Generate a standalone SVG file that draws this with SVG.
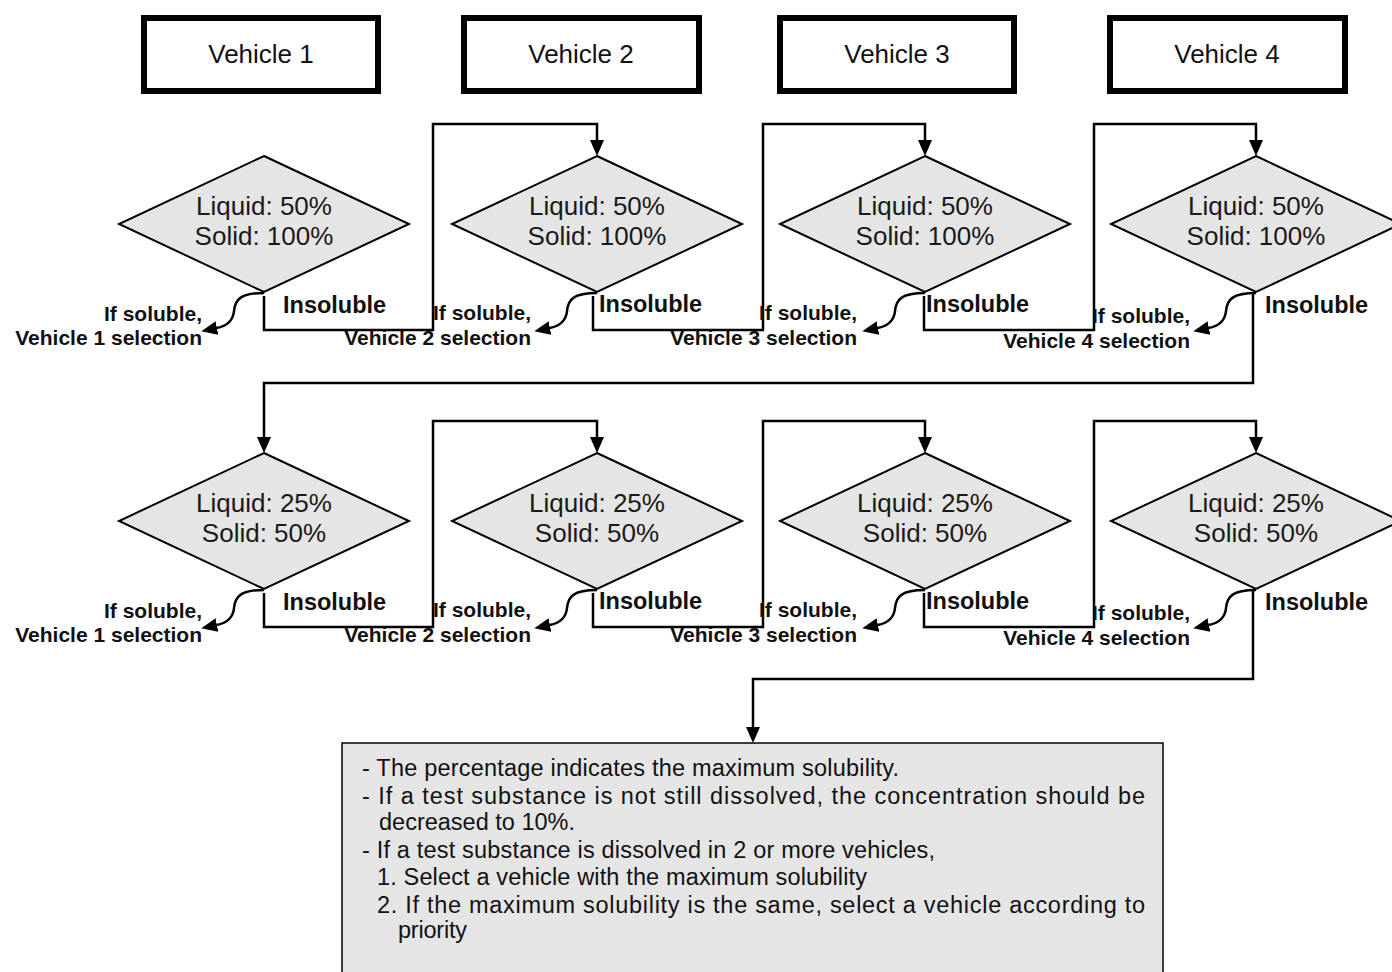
<svg xmlns="http://www.w3.org/2000/svg" width="1392" height="972" viewBox="0 0 1392 972">
  <style>
    .veh { fill: #ffffff; stroke: #000000; stroke-width: 6; }
    .vt { font-family: "Liberation Sans", Arial, sans-serif; font-size: 26px; fill: #111111; text-anchor: middle; }
    .dia { fill: #e5e5e5; stroke: #000000; stroke-width: 2; stroke-linejoin: miter; }
    .dt { font-family: "Liberation Sans", Arial, sans-serif; font-size: 26px; fill: #1a1a1a; text-anchor: middle; }
    .ins { font-family: "Liberation Sans", Arial, sans-serif; font-size: 23.5px; font-weight: bold; fill: #111111; }
    .sol { font-family: "Liberation Sans", Arial, sans-serif; font-size: 21px; font-weight: bold; fill: #111111; text-anchor: end; }
    .wire { fill: none; stroke: #000000; stroke-width: 2.5; }
    .note { fill: #e5e5e5; stroke: #000000; stroke-width: 1.5; }
    .nt { font-family: "Liberation Sans", Arial, sans-serif; font-size: 23.5px; fill: #111111; }
  </style>
  <defs>
    <marker id="arrow" markerUnits="userSpaceOnUse" markerWidth="16" markerHeight="14" refX="0" refY="7" orient="auto" viewBox="0 0 16 14">
      <path d="M0,0 L16,7 L0,14 Z" fill="#000000"/>
    </marker>
    <polygon id="diamond" points="0,-68 145,0 0,68 -145,0"/>
  </defs>

  <!-- vehicle header boxes -->
  <g id="vehicle1"><rect class="veh" x="144" y="18" width="234" height="73"/><text class="vt" x="261" y="63">Vehicle 1</text></g>
  <g id="vehicle2"><rect class="veh" x="464" y="18" width="235" height="73"/><text class="vt" x="581" y="63">Vehicle 2</text></g>
  <g id="vehicle3"><rect class="veh" x="780" y="18" width="234" height="73"/><text class="vt" x="897" y="63">Vehicle 3</text></g>
  <g id="vehicle4"><rect class="veh" x="1110" y="18" width="235" height="73"/><text class="vt" x="1227" y="63">Vehicle 4</text></g>

  <!-- connectors -->
  <g id="connectors">
    <!-- row 1: insoluble -> next vehicle -->
    <path class="wire" d="M264,296 V330 H433 V124 H597 V140" marker-end="url(#arrow)"/>
    <path class="wire" d="M593,296 V330 H763 V124 H925 V140" marker-end="url(#arrow)"/>
    <path class="wire" d="M924,296 V330 H1094 V124 H1256 V140" marker-end="url(#arrow)"/>
    <path class="wire" d="M1253,292 V383 H264 V437" marker-end="url(#arrow)"/>
    <!-- row 2: insoluble -> next vehicle -->
    <path class="wire" d="M264,593 V627 H433 V421 H597 V437" marker-end="url(#arrow)"/>
    <path class="wire" d="M593,593 V627 H763 V421 H925 V437" marker-end="url(#arrow)"/>
    <path class="wire" d="M924,593 V627 H1094 V421 H1256 V437" marker-end="url(#arrow)"/>
    <path class="wire" d="M1253,589 V679 H753 V727" marker-end="url(#arrow)"/>
    <!-- soluble branches (curved) -->
    <path class="wire" d="M264,293 C240,293 235,300 234,311 C233,321 227,326 217,328" marker-end="url(#arrow)"/>
    <path class="wire" d="M597,293 C573,293 568,300 567,311 C566,321 560,326 550,328" marker-end="url(#arrow)"/>
    <path class="wire" d="M925,293 C901,293 896,300 895,311 C894,321 888,326 878,328" marker-end="url(#arrow)"/>
    <path class="wire" d="M1256,293 C1232,293 1227,300 1226,311 C1225,321 1219,326 1209,328" marker-end="url(#arrow)"/>
    <path class="wire" d="M264,590 C240,590 235,597 234,608 C233,618 227,623 217,625" marker-end="url(#arrow)"/>
    <path class="wire" d="M597,590 C573,590 568,597 567,608 C566,618 560,623 550,625" marker-end="url(#arrow)"/>
    <path class="wire" d="M925,590 C901,590 896,597 895,608 C894,618 888,623 878,625" marker-end="url(#arrow)"/>
    <path class="wire" d="M1256,590 C1232,590 1227,597 1226,608 C1225,618 1219,623 1209,625" marker-end="url(#arrow)"/>
  </g>

  <!-- row 1 decisions -->
  <g id="decision1a">
    <use href="#diamond" class="dia" x="264" y="224"/>
    <text class="dt" x="264" y="215">Liquid: 50%</text><text class="dt" x="264" y="245">Solid: 100%</text>
    <text class="ins" x="283" y="313">Insoluble</text>
    <text class="sol" x="202" y="321">If soluble,</text><text class="sol" x="202" y="345">Vehicle 1 selection</text>
  </g>
  <g id="decision2a">
    <use href="#diamond" class="dia" x="597" y="224"/>
    <text class="dt" x="597" y="215">Liquid: 50%</text><text class="dt" x="597" y="245">Solid: 100%</text>
    <text class="ins" x="599" y="312">Insoluble</text>
    <text class="sol" x="531" y="320">If soluble,</text><text class="sol" x="531" y="345">Vehicle 2 selection</text>
  </g>
  <g id="decision3a">
    <use href="#diamond" class="dia" x="925" y="224"/>
    <text class="dt" x="925" y="215">Liquid: 50%</text><text class="dt" x="925" y="245">Solid: 100%</text>
    <text class="ins" x="926" y="312">Insoluble</text>
    <text class="sol" x="857" y="320">If soluble,</text><text class="sol" x="857" y="345">Vehicle 3 selection</text>
  </g>
  <g id="decision4a">
    <use href="#diamond" class="dia" x="1256" y="224"/>
    <text class="dt" x="1256" y="215">Liquid: 50%</text><text class="dt" x="1256" y="245">Solid: 100%</text>
    <text class="ins" x="1265" y="313">Insoluble</text>
    <text class="sol" x="1190" y="323">If soluble,</text><text class="sol" x="1190" y="348">Vehicle 4 selection</text>
  </g>

  <!-- row 2 decisions -->
  <g id="decision1b">
    <use href="#diamond" class="dia" x="264" y="521"/>
    <text class="dt" x="264" y="512">Liquid: 25%</text><text class="dt" x="264" y="542">Solid: 50%</text>
    <text class="ins" x="283" y="610">Insoluble</text>
    <text class="sol" x="202" y="618">If soluble,</text><text class="sol" x="202" y="642">Vehicle 1 selection</text>
  </g>
  <g id="decision2b">
    <use href="#diamond" class="dia" x="597" y="521"/>
    <text class="dt" x="597" y="512">Liquid: 25%</text><text class="dt" x="597" y="542">Solid: 50%</text>
    <text class="ins" x="599" y="609">Insoluble</text>
    <text class="sol" x="531" y="617">If soluble,</text><text class="sol" x="531" y="642">Vehicle 2 selection</text>
  </g>
  <g id="decision3b">
    <use href="#diamond" class="dia" x="925" y="521"/>
    <text class="dt" x="925" y="512">Liquid: 25%</text><text class="dt" x="925" y="542">Solid: 50%</text>
    <text class="ins" x="926" y="609">Insoluble</text>
    <text class="sol" x="857" y="617">If soluble,</text><text class="sol" x="857" y="642">Vehicle 3 selection</text>
  </g>
  <g id="decision4b">
    <use href="#diamond" class="dia" x="1256" y="521"/>
    <text class="dt" x="1256" y="512">Liquid: 25%</text><text class="dt" x="1256" y="542">Solid: 50%</text>
    <text class="ins" x="1265" y="610">Insoluble</text>
    <text class="sol" x="1190" y="620">If soluble,</text><text class="sol" x="1190" y="645">Vehicle 4 selection</text>
  </g>

  <!-- notes box -->
  <g id="notes">
    <rect class="note" x="342" y="743" width="821" height="240"/>
    <text class="nt" x="362" y="776" textLength="537" lengthAdjust="spacing">- The percentage indicates the maximum solubility.</text>
    <text class="nt" x="362" y="804" textLength="783" lengthAdjust="spacing">- If a test substance is not still dissolved, the concentration should be</text>
    <text class="nt" x="379" y="830" textLength="196" lengthAdjust="spacing">decreased to 10%.</text>
    <text class="nt" x="362" y="858" textLength="573" lengthAdjust="spacing">- If a test substance is dissolved in 2 or more vehicles,</text>
    <text class="nt" x="377" y="885" textLength="490" lengthAdjust="spacing">1. Select a vehicle with the maximum solubility</text>
    <text class="nt" x="377" y="913" textLength="768" lengthAdjust="spacing">2. If the maximum solubility is the same, select a vehicle according to</text>
    <text class="nt" x="398" y="938" textLength="69" lengthAdjust="spacing">priority</text>
  </g>
</svg>
